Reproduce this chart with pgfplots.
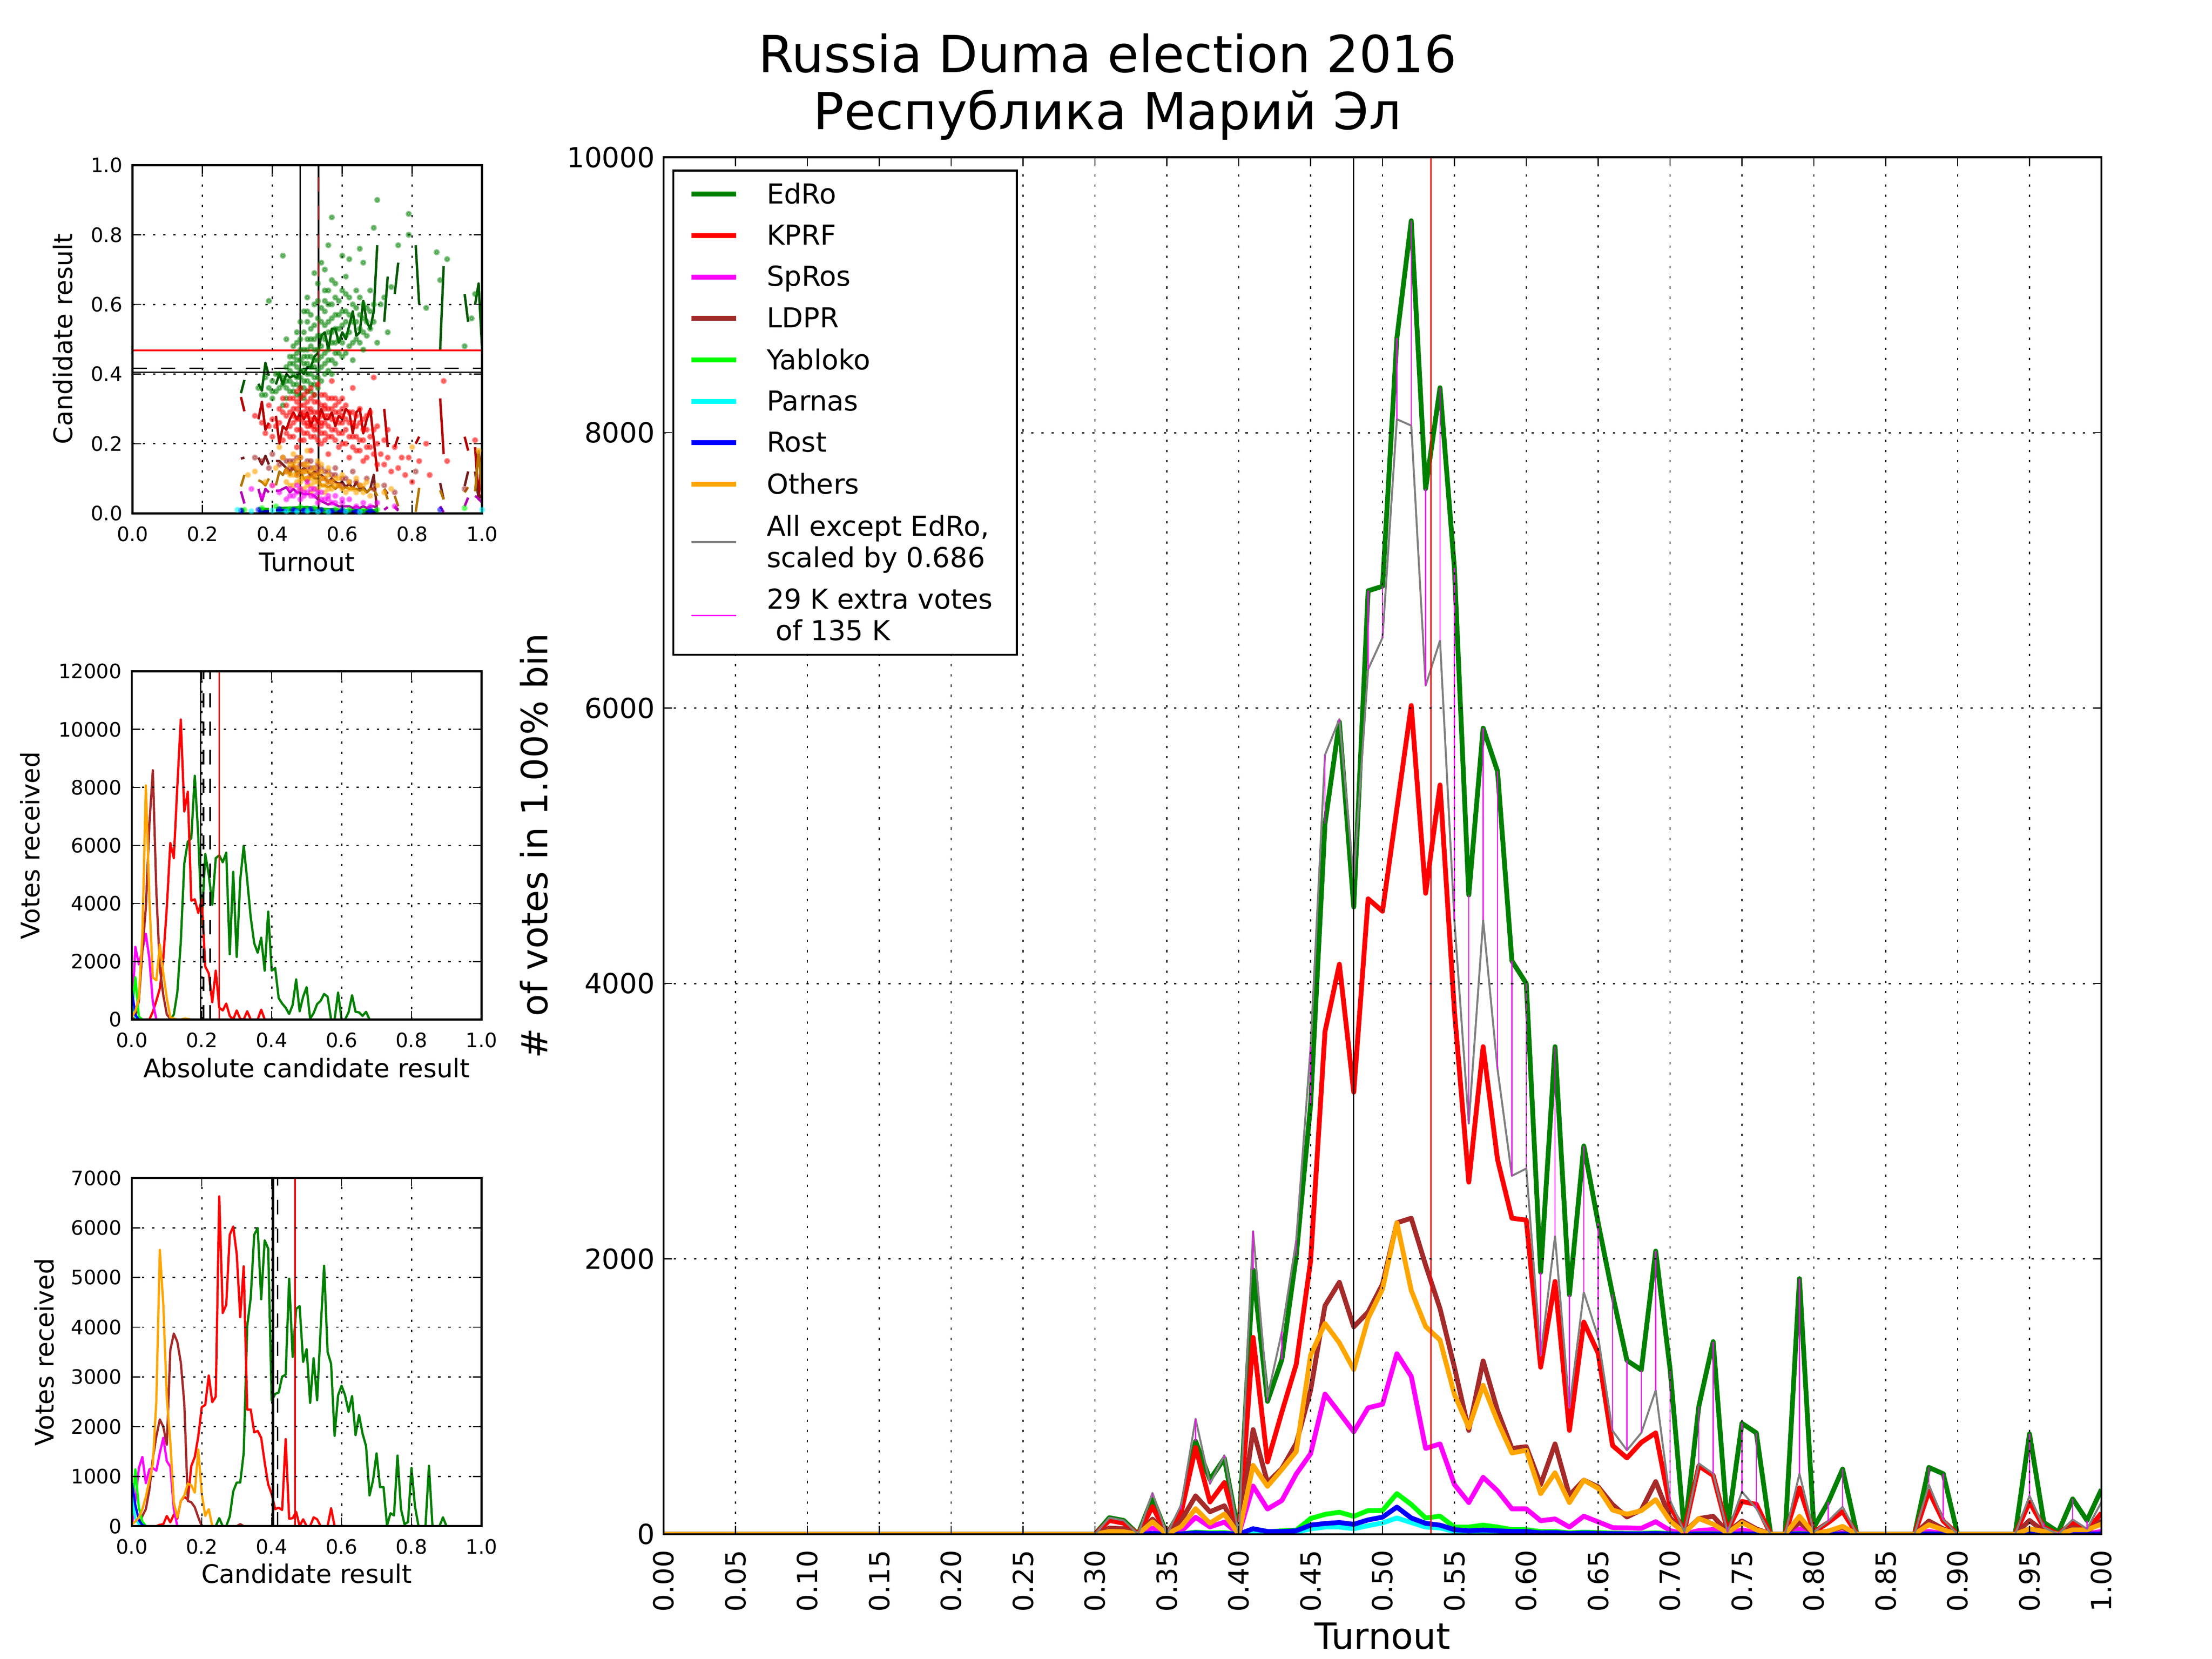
\documentclass[border=0pt]{standalone}
\usepackage{fontspec}
\setmainfont{DejaVu Sans}
\usepackage{pgfplots}
\usepackage{pgfplotstable}
\pgfplotsset{compat=1.18}

\definecolor{cgreen}{HTML}{008000}
\definecolor{cred}{HTML}{FF0000}
\definecolor{cmag}{HTML}{FF00FF}
\definecolor{cbrown}{HTML}{A52A2A}
\definecolor{clime}{HTML}{00FF00}
\definecolor{ccyan}{HTML}{00FFFF}
\definecolor{cblue}{HTML}{0000FF}
\definecolor{corange}{HTML}{FFA500}
\definecolor{cgray}{HTML}{808080}
\definecolor{dgreen}{HTML}{005900}
\definecolor{dred}{HTML}{B30000}
\definecolor{dbrown}{HTML}{741D1D}
\definecolor{dorange}{HTML}{B37400}
\definecolor{dmag}{HTML}{B300B3}
\definecolor{dlime}{HTML}{00B300}
\definecolor{dblue}{HTML}{0000B3}
\definecolor{dcyan}{HTML}{00B3B3}

% turnout bin, EdRo, KPRF, SpRos, LDPR, Yabloko, Parnas, Rost, Others, scaled others
\pgfplotstableread{
x ed kp sr ld ya pa ro ot gr
0.00 0 0 0 0 0 0 0 0 0
0.01 0 0 0 0 0 0 0 0 0
0.02 0 0 0 0 0 0 0 0 0
0.03 0 0 0 0 0 0 0 0 0
0.04 0 0 0 0 0 0 0 0 0
0.05 0 0 0 0 0 0 0 0 0
0.06 0 0 0 0 0 0 0 0 0
0.07 0 0 0 0 0 0 0 0 0
0.08 0 0 0 0 0 0 0 0 0
0.09 0 0 0 0 0 0 0 0 0
0.10 0 0 0 0 0 0 0 0 0
0.11 0 0 0 0 0 0 0 0 0
0.12 0 0 0 0 0 0 0 0 0
0.13 0 0 0 0 0 0 0 0 0
0.14 0 0 0 0 0 0 0 0 0
0.15 0 0 0 0 0 0 0 0 0
0.16 0 0 0 0 0 0 0 0 0
0.17 0 0 0 0 0 0 0 0 0
0.18 0 0 0 0 0 0 0 0 0
0.19 0 0 0 0 0 0 0 0 0
0.20 0 0 0 0 0 0 0 0 0
0.21 0 0 0 0 0 0 0 0 0
0.22 0 0 0 0 0 0 0 0 0
0.23 0 0 0 0 0 0 0 0 0
0.24 0 0 0 0 0 0 0 0 0
0.25 0 0 0 0 0 0 0 0 0
0.26 0 0 0 0 0 0 0 0 0
0.27 0 0 0 0 0 0 0 0 0
0.28 0 0 0 0 0 0 0 0 0
0.29 0 0 0 0 0 0 0 0 0
0.30 0 0 0 0 0 0 0 0 0
0.31 120 100 10 45 0 0 0 20 120
0.32 100 80 8 40 0 0 0 18 100
0.33 0 0 0 0 0 0 0 0 0
0.34 265 200 45 110 3 2 5 90 300
0.35 0 0 0 0 0 0 0 0 0
0.36 176 160 20 100 2 1 2 55 215
0.37 675 630 123 278 15 5 10 185 838
0.38 397 234 53 163 10 3 5 80 366
0.39 551 375 88 207 12 4 6 146 573
0.40 0 0 0 0 0 0 0 0 0
0.41 1920 1430 350 760 30 20 40 500 2200
0.42 965 525 183 375 15 10 20 348 995
0.43 1268 887 245 477 25 12 20 470 1470
0.44 2020 1234 437 660 30 15 25 600 2135
0.45 3120 1985 585 1045 114 39 66 1300 3540
0.46 5160 3650 1018 1660 144 52 78 1530 5660
0.47 5900 4140 882 1830 160 52 85 1390 5920
0.48 4555 3210 744 1506 130 40 72 1196 4765
0.49 6852 4615 918 1614 172 62 104 1568 6282
0.50 6885 4525 944 1816 172 82 124 1780 6511
0.51 8688 5270 1311 2262 295 118 197 2262 8098
0.52 9540 6019 1147 2295 216 85 118 1770 8052
0.53 7593 4655 623 1954 118 52 79 1508 6164
0.54 8327 5442 656 1639 131 46 66 1410 6491
0.55 7016 3803 361 1213 52 20 33 1016 4459
0.56 4642 2557 230 754 52 15 25 774 2983
0.57 5855 3541 413 1259 66 20 30 1082 4459
0.58 5541 2721 315 898 52 15 25 820 3377
0.59 4164 2295 184 623 33 10 20 590 2603
0.60 4000 2282 184 636 33 10 20 610 2656
0.61 1902 1213 98 361 20 5 10 295 1298
0.62 3541 1836 111 656 20 6 12 446 2164
0.63 1738 754 52 282 10 3 5 230 918
0.64 2820 1541 131 393 15 4 8 393 1757
0.65 2260 1315 90 344 12 3 6 333 1431
0.66 1742 644 48 215 8 2 4 176 751
0.67 1262 554 46 125 6 2 3 145 610
0.68 1193 667 43 176 6 2 3 171 736
0.69 2057 736 91 382 10 3 5 251 1045
0.70 1200 199 27 119 4 1 2 96 245
0.71 5 27 0 16 0 0 0 9 16
0.72 930 496 27 114 4 1 2 114 514
0.73 1399 427 34 130 4 1 2 73 439
0.74 50 27 0 16 0 0 0 9 16
0.75 805 238 32 96 3 1 2 85 309
0.76 736 217 10 39 2 0 1 32 187
0.77 0 0 0 0 0 0 0 0 0
0.78 0 0 0 0 0 0 0 0 0
0.79 1856 336 39 85 5 1 2 130 439
0.80 50 16 0 5 0 0 0 3 16
0.81 233 85 5 23 1 0 0 23 96
0.82 473 165 10 50 2 0 1 57 199
0.83 0 0 0 0 0 0 0 0 0
0.84 0 0 0 0 0 0 0 0 0
0.85 0 0 0 0 0 0 0 0 0
0.86 0 0 0 0 0 0 0 0 0
0.87 0 0 0 0 0 0 0 0 0
0.88 485 313 20 96 3 1 2 69 359
0.89 439 96 5 39 1 0 1 32 107
0.90 0 0 0 0 0 0 0 0 0
0.91 0 0 0 0 0 0 0 0 0
0.92 0 0 0 0 0 0 0 0 0
0.93 0 0 0 0 0 0 0 0 0
0.94 0 0 0 0 0 0 0 0 0
0.95 729 233 15 100 3 1 2 39 279
0.96 85 50 3 20 0 0 0 20 50
0.97 16 0 0 0 0 0 0 0 0
0.98 256 85 5 50 1 0 0 32 107
0.99 100 27 3 20 0 0 0 32 39
1.00 325 153 20 96 3 1 2 73 233
}\maindata

\pgfplotsset{
  mplbase/.style={
    scale only axis, axis on top,
    axis line style={line width=1.5bp},
    tick align=inside, xtick pos=both, ytick pos=both,
    major tick length=6bp,
    tick style={black, line width=0.8bp},
    grid=major,
    major grid style={black, line width=0.9bp, dash pattern=on 1.6bp off 5.6bp},
    /pgf/number format/assume math mode=true,
    /pgf/number format/1000 sep={},
    scaled ticks=false,
    unbounded coords=jump,
    every axis plot/.append style={mark=none, line join=round},
  },
  small/.style={mplbase, width=246.5bp, height=245.5bp, anchor=south west,
    xmin=0, xmax=1, xtick={0,0.2,0.4,0.6,0.8,1},
    xticklabel={\pgfmathprintnumber[fixed,fixed zerofill,precision=1]{\tick}},
    ticklabel style={font=\fontsize{14bp}{16bp}\selectfont},
    xticklabel style={anchor=north, inner sep=0pt, yshift=-9bp},
    yticklabel style={anchor=east, inner sep=0pt, xshift=-7bp},
    every axis plot/.append style={line width=1.6bp},
  },
  scdots/.style={only marks, color=#1, mark=*, mark size=1.4bp,
    mark options={draw=none, fill=#1, opacity=0.45}},
  mdash/.style={dash pattern=on 10bp off 10bp},
}

\begin{document}
\begin{tikzpicture}
\path[use as bounding box] (0,0) rectangle (1560bp,1170bp);

\node[anchor=base, font=\fontsize{36bp}{40bp}\selectfont] at (781bp,1119.1bp) {Russia Duma election 2016};
\node[anchor=base, font=\fontsize{36bp}{40bp}\selectfont] at (781bp,1078.6bp) {Республика Марий Эл};

% ---------------- main axis ----------------
\begin{axis}[mplbase, at={(468bp,88bp)}, anchor=south west,
  width=1014bp, height=971bp,
  xmin=0, xmax=1, ymin=0, ymax=10000,
  xtick={0,0.05,0.1,0.15,0.2,0.25,0.3,0.35,0.4,0.45,0.5,0.55,0.6,0.65,0.7,0.75,0.8,0.85,0.9,0.95,1},
  ytick={0,2000,4000,6000,8000,10000},
  xticklabel={\pgfmathprintnumber[fixed,fixed zerofill,precision=2]{\tick}},
  ticklabel style={font=\fontsize{19.5bp}{22bp}\selectfont},
  xticklabel style={yshift=-11bp, rotate=90, anchor=east, inner sep=0pt},
  yticklabel style={anchor=east, inner sep=0pt, xshift=-6bp},
  every axis plot/.append style={line width=3.4bp},
  legend style={at={(axis description cs:0.006,0.9912)}, anchor=north west,
    draw=black, line width=1.5bp, fill=white,
    inner xsep=11bp, inner ysep=8.5bp,
    row sep=13.4bp, column sep=20bp,
    font=\fontsize{19.4bp}{22.3bp}\selectfont,
    nodes={inner sep=0pt}},
  legend cell align=left,
  legend image code/.code={\draw[#1] (0bp,0bp) -- (31.5bp,0bp);},
]
\addplot[cgreen] table[x=x,y=ed]{\maindata}; \addlegendentry{EdRo}
\addplot[cred] table[x=x,y=kp]{\maindata}; \addlegendentry{KPRF}
\addplot[cmag] table[x=x,y=sr]{\maindata}; \addlegendentry{S\smash{p}Ros}
\addplot[cbrown] table[x=x,y=ld]{\maindata}; \addlegendentry{LDPR}
\addplot[clime] table[x=x,y=ya]{\maindata}; \addlegendentry{Yabloko}
\addplot[ccyan] table[x=x,y=pa]{\maindata}; \addlegendentry{Parnas}
\addplot[cblue] table[x=x,y=ro]{\maindata}; \addlegendentry{Rost}
\addplot[corange] table[x=x,y=ot]{\maindata}; \addlegendentry{Others}
\addplot[cgray, line width=1.4bp] table[x=x,y=gr]{\maindata};
\addlegendentry[align=left]{All except EdRo,\\scaled by 0.686}
\addplot[draw=none, forget plot,
  error bars/.cd, y dir=both, y explicit, error mark=none,
  error bar style={draw=cmag, line width=0.8bp}]
  table[x=x, y=ed, y error plus expr={max(\thisrow{gr}-\thisrow{ed},0)},
        y error minus expr={max(\thisrow{ed}-\thisrow{gr},0)}]{\maindata};
\addlegendimage{cmag, line width=1bp}
\addlegendentry[align=left]{29 K extra votes\hspace*{6bp}\\\hspace*{0.32em}of 135 K}
\addplot[black, line width=0.9bp, forget plot] coordinates {(0.4798,0) (0.4798,10000)};
\addplot[cred, line width=0.9bp, forget plot] coordinates {(0.5336,0) (0.5336,10000)};
\end{axis}

% ---------------- top-left: result vs turnout ----------------
\begin{axis}[small, at={(93.5bp,808bp)}, ymin=0, ymax=1,
  ytick={0,0.2,0.4,0.6,0.8,1},
  yticklabel={\pgfmathprintnumber[fixed,fixed zerofill,precision=1]{\tick}}]
\addplot[scdots=cgreen] coordinates {
(0.36,0.36) (0.37,0.34) (0.38,0.39) (0.39,0.36) (0.40,0.38) (0.40,0.33) (0.41,0.35) (0.42,0.40) (0.43,0.37) (0.43,0.31) (0.44,0.42) (0.44,0.36)
(0.39,0.61) (0.43,0.74) (0.44,0.50) (0.57,0.85) (0.56,0.77) (0.55,0.70) (0.70,0.90) (0.79,0.86) (0.79,0.80) (0.69,0.82) (0.76,0.77) (0.74,0.65)
(0.84,0.59) (0.87,0.75) (0.88,0.67) (0.90,0.73) (0.72,0.62) (0.97,0.56) (0.98,0.63) (0.95,0.48) (0.60,0.74) (0.62,0.73) (0.66,0.72) (0.65,0.76)
(0.61,0.68) (0.66,0.56) (0.68,0.53) (0.73,0.52)
(0.45,0.38) (0.45,0.45) (0.46,0.40) (0.46,0.48) (0.46,0.35) (0.47,0.42) (0.47,0.52) (0.47,0.37) (0.48,0.44) (0.48,0.39) (0.48,0.55) (0.48,0.34)
(0.49,0.41) (0.49,0.47) (0.49,0.58) (0.49,0.36) (0.50,0.43) (0.50,0.50) (0.50,0.38) (0.50,0.62) (0.51,0.45) (0.51,0.40) (0.51,0.53) (0.51,0.35)
(0.52,0.47) (0.52,0.42) (0.52,0.60) (0.52,0.37) (0.53,0.44) (0.53,0.51) (0.53,0.66) (0.53,0.39) (0.54,0.48) (0.54,0.55) (0.54,0.42) (0.55,0.46)
(0.55,0.58) (0.55,0.50) (0.55,0.64) (0.56,0.52) (0.56,0.44) (0.56,0.60) (0.57,0.49) (0.57,0.56) (0.57,0.40) (0.58,0.53) (0.58,0.62) (0.58,0.46)
(0.59,0.50) (0.59,0.57) (0.60,0.54) (0.60,0.45) (0.60,0.64) (0.61,0.51) (0.61,0.58) (0.62,0.48) (0.62,0.62) (0.63,0.55) (0.63,0.44) (0.64,0.59)
(0.64,0.50) (0.65,0.53) (0.65,0.62) (0.66,0.47) (0.67,0.59) (0.67,0.51) (0.68,0.64) (0.69,0.55) (0.70,0.49) (0.71,0.60) (0.54,0.72) (0.52,0.69)
(0.50,0.55) (0.47,0.46) (0.49,0.52)
(0.44,0.33) (0.44,0.38) (0.45,0.35) (0.45,0.41) (0.45,0.43) (0.46,0.37) (0.46,0.43) (0.46,0.45) (0.47,0.34) (0.47,0.39) (0.47,0.44) (0.47,0.49)
(0.48,0.36) (0.48,0.41) (0.48,0.47) (0.48,0.50) (0.49,0.33) (0.49,0.38) (0.49,0.43) (0.49,0.45) (0.50,0.35) (0.50,0.40) (0.50,0.45) (0.50,0.47)
(0.50,0.58) (0.51,0.37) (0.51,0.42) (0.51,0.48) (0.51,0.50) (0.51,0.57) (0.52,0.34) (0.52,0.39) (0.52,0.44) (0.52,0.50) (0.52,0.54) (0.53,0.36)
(0.53,0.41) (0.53,0.47) (0.53,0.56) (0.53,0.61) (0.54,0.38) (0.54,0.45) (0.54,0.51) (0.54,0.59) (0.55,0.40) (0.55,0.43) (0.55,0.54) (0.55,0.61)
(0.56,0.41) (0.56,0.47) (0.56,0.55) (0.56,0.64) (0.57,0.44) (0.57,0.52) (0.57,0.60) (0.57,0.67) (0.58,0.43) (0.58,0.49) (0.58,0.57) (0.58,0.66)
(0.59,0.46) (0.59,0.53) (0.59,0.61) (0.60,0.49) (0.60,0.58) (0.61,0.46) (0.61,0.55) (0.61,0.63) (0.62,0.52) (0.62,0.57) (0.63,0.49) (0.63,0.60)
(0.64,0.55) (0.64,0.64) (0.65,0.49) (0.65,0.57) (0.66,0.52) (0.66,0.60) (0.67,0.55) (0.68,0.58) (0.69,0.60) (0.42,0.36) (0.41,0.40) (0.43,0.39)
(0.40,0.35) (0.38,0.34)};
\addplot[scdots=cred] coordinates {
(0.35,0.28) (0.38,0.23) (0.39,0.31) (0.40,0.27) (0.41,0.25) (0.42,0.30) (0.43,0.21) (0.44,0.28) (0.45,0.33) (0.45,0.25) (0.46,0.30) (0.46,0.22)
(0.47,0.27) (0.47,0.35) (0.47,0.19) (0.48,0.29) (0.48,0.24) (0.48,0.33) (0.49,0.26) (0.49,0.31) (0.49,0.21) (0.50,0.28) (0.50,0.35) (0.50,0.23)
(0.51,0.30) (0.51,0.25) (0.51,0.18) (0.52,0.27) (0.52,0.32) (0.52,0.22) (0.53,0.29) (0.53,0.24) (0.53,0.37) (0.54,0.26) (0.54,0.31) (0.54,0.20)
(0.55,0.28) (0.55,0.23) (0.55,0.34) (0.56,0.25) (0.56,0.30) (0.56,0.17) (0.57,0.27) (0.57,0.22) (0.58,0.29) (0.58,0.24) (0.58,0.33) (0.59,0.26)
(0.59,0.19) (0.60,0.28) (0.60,0.23) (0.61,0.31) (0.61,0.20) (0.62,0.26) (0.62,0.16) (0.63,0.29) (0.63,0.22) (0.64,0.25) (0.64,0.18) (0.65,0.30)
(0.65,0.21) (0.66,0.27) (0.66,0.15) (0.67,0.24) (0.67,0.19) (0.68,0.22) (0.68,0.29) (0.69,0.17) (0.70,0.25) (0.70,0.14) (0.72,0.21) (0.73,0.16)
(0.74,0.12) (0.75,0.19) (0.76,0.13) (0.79,0.16) (0.80,0.09) (0.84,0.20) (0.85,0.11) (0.89,0.38) (0.90,0.15) (0.98,0.21) (0.63,0.36) (0.69,0.39)
(0.57,0.38) (0.60,0.33)
(0.42,0.26) (0.43,0.29) (0.43,0.33) (0.44,0.23) (0.44,0.31) (0.45,0.29) (0.45,0.22) (0.46,0.26) (0.46,0.33) (0.46,0.28) (0.47,0.24) (0.47,0.30)
(0.47,0.32) (0.48,0.21) (0.48,0.27) (0.48,0.31) (0.48,0.36) (0.49,0.23) (0.49,0.28) (0.49,0.34) (0.49,0.29) (0.50,0.25) (0.50,0.30) (0.50,0.32)
(0.50,0.26) (0.51,0.22) (0.51,0.27) (0.51,0.33) (0.51,0.29) (0.51,0.36) (0.52,0.24) (0.52,0.29) (0.52,0.25) (0.52,0.34) (0.53,0.21) (0.53,0.27)
(0.53,0.32) (0.53,0.26) (0.54,0.23) (0.54,0.28) (0.54,0.34) (0.54,0.25) (0.55,0.21) (0.55,0.26) (0.55,0.31) (0.55,0.30) (0.56,0.22) (0.56,0.28)
(0.56,0.33) (0.57,0.24) (0.57,0.30) (0.57,0.33) (0.58,0.21) (0.58,0.27) (0.58,0.31) (0.59,0.23) (0.59,0.29) (0.59,0.32) (0.60,0.20) (0.60,0.26)
(0.60,0.30) (0.61,0.24) (0.61,0.27) (0.62,0.22) (0.62,0.29) (0.63,0.19) (0.63,0.26) (0.64,0.22) (0.64,0.28) (0.65,0.18) (0.65,0.26) (0.66,0.21)
(0.66,0.24) (0.67,0.16) (0.67,0.28) (0.68,0.19) (0.69,0.24) (0.70,0.20) (0.71,0.17) (0.72,0.14) (0.73,0.24) (0.77,0.16) (0.78,0.11) (0.82,0.15)
(0.40,0.22) (0.39,0.25) (0.37,0.26)};
\addplot[scdots=cbrown] coordinates {
(0.35,0.16) (0.37,0.15) (0.39,0.13) (0.40,0.17) (0.42,0.14) (0.43,0.16) (0.44,0.12) (0.45,0.15) (0.46,0.13) (0.47,0.16) (0.47,0.11) (0.48,0.14)
(0.49,0.12) (0.50,0.15) (0.50,0.10) (0.51,0.13) (0.52,0.11) (0.53,0.14) (0.54,0.10) (0.55,0.12) (0.56,0.09) (0.57,0.11) (0.58,0.13) (0.59,0.08)
(0.60,0.10) (0.62,0.09) (0.63,0.12) (0.65,0.08) (0.67,0.10) (0.69,0.07) (0.72,0.08) (0.75,0.06) (0.81,0.12) (0.95,0.07)
(0.44,0.15) (0.45,0.13) (0.46,0.15) (0.47,0.13) (0.48,0.12) (0.48,0.16) (0.49,0.14) (0.50,0.13) (0.51,0.11) (0.51,0.15) (0.52,0.13) (0.53,0.12)
(0.54,0.13) (0.55,0.10) (0.56,0.12) (0.57,0.09) (0.58,0.11) (0.60,0.08) (0.61,0.10) (0.64,0.09)};
\addplot[scdots=corange] coordinates {
(0.33,0.11) (0.35,0.12) (0.38,0.09) (0.40,0.08) (0.41,0.13) (0.42,0.19) (0.43,0.16) (0.44,0.12) (0.45,0.14) (0.45,0.08) (0.46,0.11) (0.46,0.17)
(0.47,0.09) (0.47,0.13) (0.48,0.07) (0.48,0.12) (0.48,0.16) (0.49,0.10) (0.49,0.14) (0.50,0.08) (0.50,0.12) (0.50,0.18) (0.51,0.10) (0.51,0.06)
(0.52,0.13) (0.52,0.09) (0.53,0.11) (0.53,0.15) (0.54,0.08) (0.54,0.12) (0.55,0.10) (0.55,0.06) (0.56,0.09) (0.56,0.13) (0.57,0.07) (0.58,0.10)
(0.59,0.08) (0.60,0.11) (0.61,0.06) (0.62,0.09) (0.63,0.07) (0.64,0.10) (0.65,0.08) (0.66,0.06) (0.67,0.09) (0.68,0.05) (0.70,0.08) (0.72,0.06)
(0.74,0.07) (0.80,0.19) (0.99,0.18)
(0.44,0.09) (0.45,0.11) (0.46,0.08) (0.46,0.14) (0.47,0.11) (0.47,0.15) (0.48,0.09) (0.48,0.10) (0.49,0.07) (0.49,0.12) (0.50,0.10) (0.50,0.14)
(0.51,0.08) (0.51,0.12) (0.52,0.07) (0.52,0.11) (0.53,0.09) (0.53,0.07) (0.54,0.10) (0.54,0.14) (0.55,0.08) (0.56,0.07) (0.56,0.11) (0.57,0.09)
(0.58,0.08) (0.59,0.10) (0.60,0.07) (0.62,0.07) (0.64,0.06) (0.66,0.08)};
\addplot[scdots=cmag] coordinates {
(0.34,0.07) (0.37,0.05) (0.40,0.08) (0.42,0.06) (0.44,0.04) (0.45,0.07) (0.46,0.05) (0.47,0.08) (0.48,0.04) (0.49,0.06) (0.50,0.09) (0.51,0.05)
(0.52,0.07) (0.53,0.03) (0.54,0.06) (0.55,0.04) (0.56,0.05) (0.57,0.03) (0.58,0.05) (0.60,0.03) (0.62,0.04) (0.64,0.02) (0.66,0.03) (0.68,0.02)
(0.70,0.03) (0.75,0.02) (0.45,0.05) (0.47,0.06) (0.48,0.07) (0.49,0.05) (0.50,0.06) (0.51,0.07) (0.52,0.05) (0.53,0.06) (0.54,0.04) (0.56,0.04)
(0.58,0.03) (0.60,0.04)};
\addplot[scdots=clime] coordinates {
(0.32,0.01) (0.37,0.015) (0.41,0.02) (0.45,0.012) (0.48,0.018) (0.50,0.01) (0.52,0.015) (0.55,0.008) (0.58,0.012) (0.62,0.01) (0.66,0.008) (0.70,0.01) (0.95,0.015)};
\addplot[scdots=cblue] coordinates {
(0.31,0.008) (0.36,0.01) (0.42,0.012) (0.46,0.01) (0.49,0.008) (0.51,0.012) (0.54,0.01) (0.57,0.007) (0.60,0.009) (0.64,0.006) (0.68,0.008) (0.88,0.01)};
\addplot[scdots=ccyan] coordinates {
(0.30,0.01) (0.34,0.006) (0.40,0.008) (0.44,0.006) (0.47,0.005) (0.50,0.006) (0.53,0.005) (0.56,0.004) (0.61,0.005) (0.65,0.004) (1.0,0.01)};
\addplot[dgreen, line width=1.7bp] coordinates {
(0.31,0.345) (0.32,0.383) (0.33,nan) (0.36,0.372) (0.37,0.352) (0.38,0.432) (0.39,0.395) (0.40,nan) (0.41,0.37) (0.42,0.40) (0.43,0.37)
(0.44,0.40) (0.45,0.39) (0.46,0.395) (0.47,0.39) (0.48,0.41) (0.49,0.40) (0.50,0.42) (0.51,0.42) (0.52,0.45) (0.53,0.46) (0.54,0.51) (0.55,0.52)
(0.56,0.47) (0.57,0.53) (0.58,0.53) (0.59,0.49) (0.60,0.52) (0.61,0.50) (0.62,0.54) (0.63,0.58) (0.64,0.51) (0.65,0.52) (0.66,0.61) (0.67,0.55)
(0.68,0.53) (0.69,0.58) (0.70,0.77) (0.71,nan) (0.72,0.55) (0.73,0.68) (0.74,nan) (0.75,0.63) (0.76,0.72) (0.77,nan) (0.81,0.77) (0.82,0.60)
(0.83,nan) (0.88,0.47) (0.89,0.71) (0.90,nan) (0.95,0.63) (0.96,0.55) (0.97,nan) (0.98,0.60) (0.99,0.66) (1.00,0.47)};
\addplot[dred, line width=1.7bp] coordinates {
(0.31,0.334) (0.32,0.293) (0.33,nan) (0.36,0.27) (0.37,0.32) (0.38,0.24) (0.39,0.26) (0.40,nan) (0.41,0.28) (0.42,0.20) (0.43,0.25) (0.44,0.24)
(0.45,0.27) (0.46,0.29) (0.47,0.27) (0.48,0.29) (0.49,0.27) (0.50,0.29) (0.51,0.25) (0.52,0.28) (0.53,0.26) (0.54,0.30) (0.55,0.27) (0.56,0.27)
(0.57,0.29) (0.58,0.25) (0.59,0.28) (0.60,0.27) (0.61,0.30) (0.62,0.29) (0.63,0.23) (0.64,0.29) (0.65,0.30) (0.66,0.23) (0.67,0.27) (0.68,0.30)
(0.69,0.21) (0.70,0.12) (0.71,nan) (0.72,0.30) (0.73,0.19) (0.74,nan) (0.75,0.19) (0.76,0.22) (0.77,nan) (0.81,0.20) (0.82,0.22) (0.83,nan)
(0.88,0.33) (0.89,0.17) (0.90,nan) (0.95,0.22) (0.96,0.18) (0.97,nan) (0.98,0.19) (0.99,0.04) (1.00,0.18)};
\addplot[dbrown, line width=1.7bp] coordinates {
(0.31,0.157) (0.32,0.16) (0.33,nan) (0.36,0.16) (0.37,0.14) (0.38,0.165) (0.39,0.14) (0.40,nan) (0.41,0.15) (0.42,0.15) (0.43,0.14) (0.44,0.13)
(0.45,0.12) (0.46,0.13) (0.47,0.12) (0.48,0.12) (0.49,0.13) (0.50,0.12) (0.51,0.11) (0.52,0.12) (0.53,0.11) (0.54,0.11) (0.55,0.10) (0.56,0.09)
(0.57,0.10) (0.58,0.09) (0.59,0.085) (0.60,0.09) (0.61,0.075) (0.62,0.085) (0.63,0.07) (0.64,0.09) (0.65,0.07) (0.66,0.075) (0.67,0.06) (0.68,0.07)
(0.69,0.11) (0.70,0.0) (0.71,nan) (0.72,0.07) (0.73,0.056) (0.74,nan) (0.75,0.02) (0.76,0.01) (0.77,nan) (0.88,0.087) (0.89,0.04) (0.90,nan)
(0.95,0.078) (0.96,0.12) (0.97,nan) (0.98,0.12) (0.99,0.04) (1.00,0.055)};
\addplot[dorange, line width=1.7bp] coordinates {
(0.31,0.077) (0.32,0.11) (0.33,nan) (0.36,0.095) (0.37,0.09) (0.38,0.08) (0.39,0.10) (0.40,nan) (0.41,0.08) (0.42,0.12) (0.43,0.11) (0.44,0.13)
(0.45,0.11) (0.46,0.14) (0.47,0.11) (0.48,0.12) (0.49,0.10) (0.50,0.09) (0.51,0.11) (0.52,0.10) (0.53,0.10) (0.54,0.08) (0.55,0.08) (0.56,0.075)
(0.57,0.08) (0.58,0.07) (0.59,0.08) (0.60,0.07) (0.61,0.075) (0.62,0.07) (0.63,0.07) (0.64,0.07) (0.65,0.065) (0.66,0.07) (0.67,0.06) (0.68,0.07)
(0.69,0.07) (0.70,0.05) (0.71,nan) (0.72,0.07) (0.73,0.04) (0.74,nan) (0.75,0.05) (0.76,0.02) (0.77,nan) (0.81,0.004) (0.82,0.073) (0.83,nan)
(0.88,0.066) (0.89,0.04) (0.90,nan) (0.95,0.06) (0.96,0.075) (0.97,nan) (0.98,0.063) (0.99,0.178) (1.00,0.056)};
\addplot[dmag, line width=1.7bp] coordinates {
(0.31,0.063) (0.32,0.028) (0.33,nan) (0.36,0.07) (0.37,0.035) (0.38,0.07) (0.39,0.06) (0.40,nan) (0.41,0.065) (0.42,0.065) (0.43,0.07) (0.44,0.075)
(0.45,0.06) (0.46,0.07) (0.47,0.06) (0.48,0.06) (0.49,0.055) (0.50,0.055) (0.51,0.055) (0.52,0.05) (0.53,0.04) (0.54,0.035) (0.55,0.03) (0.56,0.025)
(0.57,0.03) (0.58,0.025) (0.59,0.02) (0.60,0.02) (0.61,0.02) (0.62,0.02) (0.63,0.015) (0.64,0.02) (0.65,0.015) (0.66,0.02) (0.67,0.015) (0.68,0.02)
(0.69,0.02) (0.70,0.015) (0.71,nan) (0.72,0.01) (0.73,0.018) (0.74,nan) (0.75,0.018) (0.76,0.007) (0.77,nan) (0.88,0.02) (0.89,0.003) (0.90,nan)
(0.95,0.02) (0.96,0.045) (0.97,nan) (0.98,0.05) (0.99,0.042) (1.00,0.03)};
\addplot[dlime, line width=1.7bp] coordinates {
(0.31,0.012) (0.32,0.01) (0.33,nan) (0.36,0.014) (0.39,0.012) (0.40,nan) (0.41,0.015) (0.45,0.016) (0.50,0.018) (0.55,0.012) (0.60,0.01) (0.65,0.009) (0.70,0.008)};
\addplot[dcyan, line width=1.7bp] coordinates {
(0.31,0.004) (0.32,0.004) (0.33,nan) (0.36,0.005) (0.39,0.005) (0.40,nan) (0.41,0.006) (0.45,0.006) (0.50,0.007) (0.55,0.005) (0.60,0.004) (0.65,0.004) (0.70,0.003)};
\addplot[dblue, line width=1.7bp] coordinates {
(0.31,0.006) (0.32,0.005) (0.33,nan) (0.36,0.007) (0.39,0.006) (0.40,nan) (0.41,0.009) (0.45,0.010) (0.50,0.011) (0.55,0.007) (0.60,0.006) (0.65,0.005) (0.70,0.004)};
\addplot[black, line width=1bp] coordinates {(0.4797,0) (0.4797,1)};
\addplot[black, line width=1bp] coordinates {(0.532,0) (0.532,1)};
\addplot[cred, line width=0.8bp, mdash] coordinates {(0.532,0.965) (0.532,0)};
\addplot[cred, line width=1bp] coordinates {(0,0.468) (1,0.468)};
\addplot[black, line width=1bp] coordinates {(0,0.405) (1,0.405)};
\addplot[black, line width=1bp, mdash] coordinates {(0,0.416) (1,0.416)};
\end{axis}

% ---------------- middle: absolute result ----------------
\begin{axis}[small, at={(93bp,451bp)}, ymin=0, ymax=12000,
  ytick={0,2000,4000,6000,8000,10000,12000}]
\addplot[cgreen] coordinates {
(0.10,0) (0.11,0) (0.12,170) (0.13,927) (0.14,2677) (0.15,5373) (0.16,6130) (0.17,6244) (0.18,8400) (0.19,6319) (0.20,3292) (0.21,5704)
(0.22,4995) (0.23,3954) (0.24,5562) (0.25,5657) (0.26,5420) (0.27,5751) (0.28,2251) (0.29,5089) (0.30,2157) (0.31,4805) (0.32,5988) (0.33,4805)
(0.34,3528) (0.35,2630) (0.36,2299) (0.37,2819) (0.38,1684) (0.39,3718) (0.40,1684) (0.41,1778) (0.42,738) (0.43,549) (0.44,407) (0.45,189)
(0.46,501) (0.47,1381) (0.48,284) (0.49,785) (0.50,1116) (0.51,28) (0.52,218) (0.53,530) (0.54,643) (0.55,880) (0.56,785) (0.57,0) (0.58,0)
(0.59,927) (0.60,0) (0.61,0) (0.62,246) (0.63,832) (0.64,265) (0.65,246) (0.66,123) (0.67,265) (0.68,0)};
\addplot[cred] coordinates {
(0.04,0) (0.05,0) (0.06,265) (0.07,643) (0.08,1069) (0.09,2110) (0.10,3860) (0.11,6083) (0.12,5562) (0.13,8022) (0.14,10340) (0.15,7171)
(0.16,7852) (0.17,4096) (0.18,4143) (0.19,3670) (0.20,4143) (0.21,1826) (0.22,1589) (0.23,596) (0.24,1684) (0.25,407) (0.26,312) (0.27,549)
(0.28,123) (0.29,0) (0.30,312) (0.31,20) (0.32,0) (0.33,284) (0.34,0) (0.35,0) (0.36,0) (0.37,340) (0.38,0)};
\addplot[cmag] coordinates {(0.00,100) (0.01,2500) (0.02,1900) (0.03,2400) (0.04,2950) (0.05,2100) (0.06,600) (0.07,0)};
\addplot[cbrown] coordinates {(0.00,0) (0.01,76) (0.02,643) (0.03,2346) (0.04,3860) (0.05,6698) (0.06,8590) (0.07,4427) (0.08,1778) (0.09,832) (0.10,170) (0.11,28) (0.12,0)};
\addplot[clime] coordinates {(0.00,300) (0.01,1450) (0.02,100) (0.03,0)};
\addplot[ccyan] coordinates {(0.00,500) (0.01,80) (0.02,0)};
\addplot[cblue] coordinates {(0.00,1000) (0.01,150) (0.02,0)};
\addplot[corange] coordinates {(0.00,76) (0.01,300) (0.02,738) (0.03,2914) (0.04,8069) (0.05,4200) (0.06,1447) (0.07,1353) (0.08,2583) (0.09,1589) (0.10,738) (0.11,76) (0.12,30) (0.13,0) (0.14,0) (0.15,30) (0.16,20) (0.17,0)};
\addplot[black, line width=1bp] coordinates {(0.197,0) (0.197,12000)};
\addplot[black, line width=1bp, mdash] coordinates {(0.205,0) (0.205,12000)};
\addplot[black, line width=1bp, mdash] coordinates {(0.224,0) (0.224,12000)};
\addplot[cred, line width=1bp] coordinates {(0.2496,0) (0.2496,12000)};
\end{axis}

% ---------------- bottom: candidate result ----------------
\begin{axis}[small, at={(93bp,93.7bp)}, ymin=0, ymax=7000,
  ytick={0,1000,2000,3000,4000,5000,6000,7000}]
\addplot[cgreen] coordinates {
(0.23,0) (0.24,0) (0.25,160) (0.26,0) (0.27,0) (0.28,193) (0.29,700) (0.30,877) (0.31,877) (0.32,1473) (0.33,4021) (0.34,4589) (0.35,5858)
(0.36,5996) (0.37,4562) (0.38,5748) (0.39,5582) (0.40,2521) (0.41,2659) (0.42,2686) (0.43,3006) (0.44,3045) (0.45,4975) (0.46,3403) (0.47,4369)
(0.48,4424) (0.49,3304) (0.50,3558) (0.51,2477) (0.52,3376) (0.53,2532) (0.54,3955) (0.55,5235) (0.56,3503) (0.57,3265) (0.58,1815) (0.59,2631)
(0.60,2824) (0.61,2631) (0.62,2300) (0.63,2614) (0.64,1831) (0.65,2234) (0.66,1859) (0.67,1611) (0.68,618) (0.69,921) (0.70,1462) (0.71,783)
(0.72,783) (0.73,11) (0.74,259) (0.75,215) (0.76,1418) (0.77,342) (0.78,39) (0.79,83) (0.80,1169) (0.81,397) (0.82,0) (0.83,0) (0.84,0)
(0.85,1213) (0.86,0) (0.87,0) (0.88,0) (0.89,177) (0.90,0)};
\addplot[cred] coordinates {
(0.07,0) (0.08,28) (0.09,39) (0.10,204) (0.11,77) (0.12,232) (0.13,149) (0.14,507) (0.15,590) (0.16,535) (0.17,1208) (0.18,1390) (0.19,1804)
(0.20,2394) (0.21,2438) (0.22,3028) (0.23,2493) (0.24,2604) (0.25,6630) (0.26,4286) (0.27,4452) (0.28,5858) (0.29,6024) (0.30,5472) (0.31,4203)
(0.32,5224) (0.33,2344) (0.34,2344) (0.35,1886) (0.36,1914) (0.37,1776) (0.38,1280) (0.39,838) (0.40,645) (0.41,342) (0.42,370) (0.43,325)
(0.44,1749) (0.45,149) (0.46,160) (0.47,287) (0.48,0) (0.49,138) (0.50,0) (0.51,0) (0.52,177) (0.53,138) (0.54,0) (0.55,0) (0.56,0) (0.57,359) (0.58,0)};
\addplot[cmag] coordinates {(0.00,0) (0.01,500) (0.02,1169) (0.03,1390) (0.04,866) (0.05,1142) (0.06,1169) (0.07,1114) (0.08,1473) (0.09,1776) (0.10,1307) (0.11,1197) (0.12,342) (0.13,0)};
\addplot[cbrown] coordinates {(0.02,0) (0.03,204) (0.04,342) (0.05,728) (0.06,1362) (0.07,1804) (0.08,2146) (0.09,1997) (0.10,1638) (0.11,3541) (0.12,3872) (0.13,3707) (0.14,3293) (0.15,2466) (0.16,507) (0.17,480) (0.18,381) (0.19,177) (0.20,0) (0.30,0) (0.31,39) (0.32,0)};
\addplot[clime] coordinates {(0.00,200) (0.01,1141) (0.02,370) (0.03,94) (0.04,0)};
\addplot[ccyan] coordinates {(0.00,590) (0.01,149) (0.02,39) (0.03,0)};
\addplot[cblue] coordinates {(0.00,866) (0.01,425) (0.02,121) (0.03,20) (0.04,0)};
\addplot[corange] coordinates {(0.00,39) (0.01,94) (0.02,177) (0.03,342) (0.04,590) (0.05,921) (0.06,1252) (0.07,2521) (0.08,5555) (0.09,4452) (0.10,2576) (0.11,1693) (0.12,480) (0.13,177) (0.14,507) (0.15,618) (0.16,855) (0.17,822) (0.18,673) (0.19,1539) (0.20,645) (0.21,204) (0.22,342) (0.23,0)};
\addplot[black, line width=1bp] coordinates {(0.402,0) (0.402,7000)};
\addplot[black, line width=1bp] coordinates {(0.4056,0) (0.4056,7000)};
\addplot[black, line width=1bp, mdash] coordinates {(0.417,0) (0.417,7000)};
\addplot[cred, line width=1bp] coordinates {(0.467,0) (0.467,7000)};
\end{axis}

% ---------------- axis labels ----------------
\node[anchor=base, font=\fontsize{25.5bp}{28bp}\selectfont] at (975bp,7bp) {Turnout};
\node[anchor=base, rotate=90, font=\fontsize{25.5bp}{28bp}\selectfont] at (386bp,573.5bp) {\# of votes in 1.00\% bin};
\node[anchor=base, font=\fontsize{18bp}{21bp}\selectfont] at (216.5bp,767bp) {Turnout};
\node[anchor=base, rotate=90, font=\fontsize{18bp}{21bp}\selectfont] at (51bp,931bp) {Candidate result};
\node[anchor=base, font=\fontsize{18bp}{21bp}\selectfont] at (216.3bp,410bp) {Absolute candidate result};
\node[anchor=base, rotate=90, font=\fontsize{18bp}{21bp}\selectfont] at (28bp,573.7bp) {Votes received};
\node[anchor=base, font=\fontsize{18bp}{21bp}\selectfont] at (216.3bp,53.5bp) {Candidate result};
\node[anchor=base, rotate=90, font=\fontsize{18bp}{21bp}\selectfont] at (38bp,216.5bp) {Votes received};
\end{tikzpicture}
\end{document}
